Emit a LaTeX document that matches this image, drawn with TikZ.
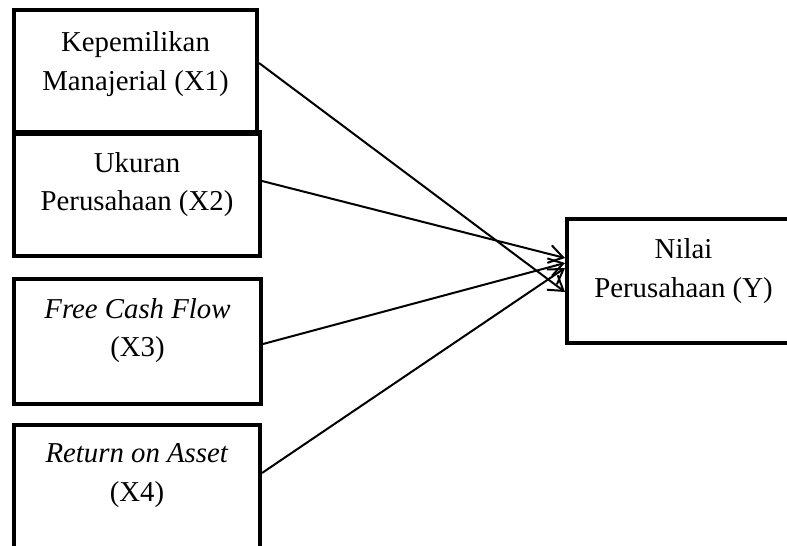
\documentclass[tikz,border=0pt]{standalone}
\usepackage{fontspec}
\setmainfont{Liberation Serif}
\usetikzlibrary{arrows.meta, positioning, calc}

\begin{document}
\begin{tikzpicture}[
    x=1pt, y=-1pt,
    varbox/.style={rectangle, draw=black, line width=4pt, inner sep=0pt},
    boxtext/.style={inner sep=0pt, align=center, font=\fontsize{28.8}{38.5}\selectfont},
    arrow/.style={-{Straight Barb[length=14pt, width=18pt]}, line width=2pt}
]
\useasboundingbox (0,0) rectangle (787,546);
\clip (0,0) rectangle (787,546);

% Independent variables
\node[varbox, minimum width=243pt, minimum height=124pt] (x1) at (135.5,72) {};
\node[varbox, minimum width=246pt, minimum height=124pt] (x2) at (137,194) {};
\node[varbox, minimum width=247pt, minimum height=125pt] (x3) at (137.5,341.5) {};
\node[varbox, minimum width=246pt, minimum height=130pt] (x4) at (137,490) {};

% Dependent variable
\node[varbox, minimum width=233pt, minimum height=124pt] (y) at (683.5,281) {};

\node[boxtext, below=23.5pt of x1.north] (x1txt) {Kepemilikan\\Manajerial (X1)};
\node[boxtext, below=22pt of x2.north] (x2txt) {Ukuran\\Perusahaan (X2)};
\node[boxtext, below=21pt of x3.north] (x3txt) {\textit{Free Cash Flow}\\(X3)};
\node[boxtext, below=20.5pt of x4.north] (x4txt) {\textit{Return on Asset}\\(X4)};
\node[boxtext, below=21.5pt of y.north] (ytxt) {Nilai\\Perusahaan (Y)};

\draw[arrow] ([yshift=9pt]x1.east) -- ([yshift=-11pt]y.west);
\draw[arrow] ([yshift=13pt]x2.east) -- ([yshift=23pt]y.west);
\draw[arrow] ([yshift=-2.5pt]x3.east) -- ([yshift=18pt]y.west);
\draw[arrow] ([yshift=17pt]x4.east) -- ([yshift=13pt]y.west);

\end{tikzpicture}
\end{document}
